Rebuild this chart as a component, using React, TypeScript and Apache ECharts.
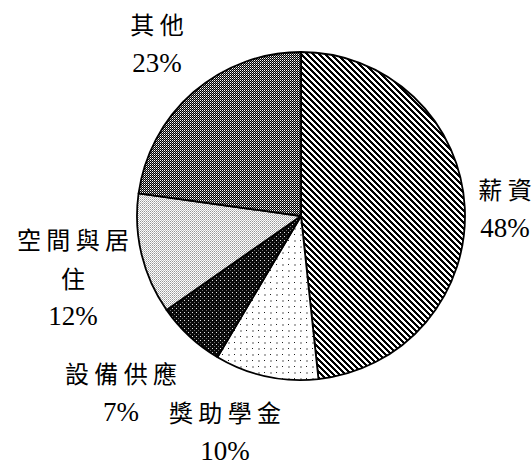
import React, { useEffect, useRef } from "react";
import * as echarts from "echarts";

const categories = ["薪資", "獎助學金", "設備供應", "空間與居住", "其他"];
const values = [48.3, 10.2, 6.8, 11.9, 22.8];

// label anchor positions (layout only)
const LABEL_POS: [number, number][] = [
  [505, 208],
  [225, 431],
  [121, 392],
  [73, 277],
  [157, 43],
];

type PixelFn = (x: number, y: number) => number;

function makeTile(size: number, fn: PixelFn): string {
  const c = document.createElement("canvas");
  c.width = size;
  c.height = size;
  const ctx = c.getContext("2d")!;
  const img = ctx.createImageData(size, size);
  for (let y = 0; y < size; y++) {
    for (let x = 0; x < size; x++) {
      const v = fn(x, y);
      const i = (y * size + x) * 4;
      img.data[i] = v;
      img.data[i + 1] = v;
      img.data[i + 2] = v;
      img.data[i + 3] = 255;
    }
  }
  ctx.putImageData(img, 0, 0);
  return c.toDataURL();
}

function patterns() {
  const stripes = makeTile(6, (x, y) => ((((x - y) % 6) + 6) % 6 < 3 ? 0 : 255));
  const sparseDots = makeTile(12, (x, y) => {
    if ((x === 0 && y === 0) || (x === 6 && y === 6)) return 30;
    if ((x >= 6 && x <= 7 && y >= 0 && y <= 1) || (x >= 0 && x <= 1 && y >= 6 && y <= 7)) return 175;
    return 255;
  });
  const darkDots = makeTile(4, (x, y) => {
    if (x === 0 && y === 0) return 230;
    if (x === 2 && y === 2) return 110;
    return 10;
  });
  const lightDots = makeTile(4, (x, y) => {
    if ((x + y) % 2 === 0) return 255;
    return y % 2 === 0 ? 190 : 150;
  });
  const grayDots = makeTile(4, (x, y) => {
    if ((x + y) % 2 === 1) return 0;
    return y % 2 === 0 ? 255 : 136;
  });
  return [
    { image: stripes, repeat: "repeat", imageWidth: 6, imageHeight: 6 },
    { image: sparseDots, repeat: "repeat", imageWidth: 12, imageHeight: 12 },
    { image: darkDots, repeat: "repeat", imageWidth: 4, imageHeight: 4 },
    { image: lightDots, repeat: "repeat", imageWidth: 4, imageHeight: 4 },
    { image: grayDots, repeat: "repeat", imageWidth: 4, imageHeight: 4 },
  ];
}

function formatLabel(name: string, percent: number): string {
  const chars = Array.from(name);
  const lines: string[] = [];
  for (let i = 0; i < chars.length; i += 4) {
    lines.push("{n|" + chars.slice(i, i + 4).join(" ") + "}");
  }
  lines.push("{p|" + Math.round(percent) + "%}");
  return lines.join("\n");
}

const CJK_FONT = "Noto Sans CJK TC";
const NUM_FONT = "Liberation Serif, DejaVu Serif, serif";

export default function App() {
  const ref = useRef<HTMLDivElement>(null);
  useEffect(() => {
    if (!ref.current) return;
    const chart = echarts.init(ref.current, null, { renderer: "svg" });
    const fills = patterns();
    chart.setOption({
      animation: false,
      backgroundColor: "#ffffff",
      series: [
        {
          type: "pie",
          center: [301, 216],
          radius: 164,
          startAngle: 90,
          clockwise: true,
          avoidLabelOverlap: false,
          emphasis: { disabled: true },
          itemStyle: { borderColor: "#000", borderWidth: 1.8 },
          label: {
            show: true,
            position: "outside",
            color: "#000",
            formatter: (p: any) => formatLabel(p.name, p.percent),
            rich: {
              n: { fontSize: 24, lineHeight: 39, fontFamily: CJK_FONT, color: "#000" },
              p: { fontSize: 27, lineHeight: 39, fontFamily: NUM_FONT, color: "#000" },
            },
          },
          labelLine: { show: false },
          labelLayout: (params: any) => {
            const pos = LABEL_POS[params.dataIndex];
            return { x: pos[0], y: pos[1], align: "center", verticalAlign: "middle" };
          },
          data: categories.map((name, i) => ({
            name,
            value: values[i],
            itemStyle: { color: fills[i] },
          })),
        },
      ],
    });
    return () => chart.dispose();
  }, []);
  return (
    <div
      ref={ref}
      style={{ position: "fixed", left: 0, top: 0, width: 532, height: 464, background: "#fff" }}
    />
  );
}
